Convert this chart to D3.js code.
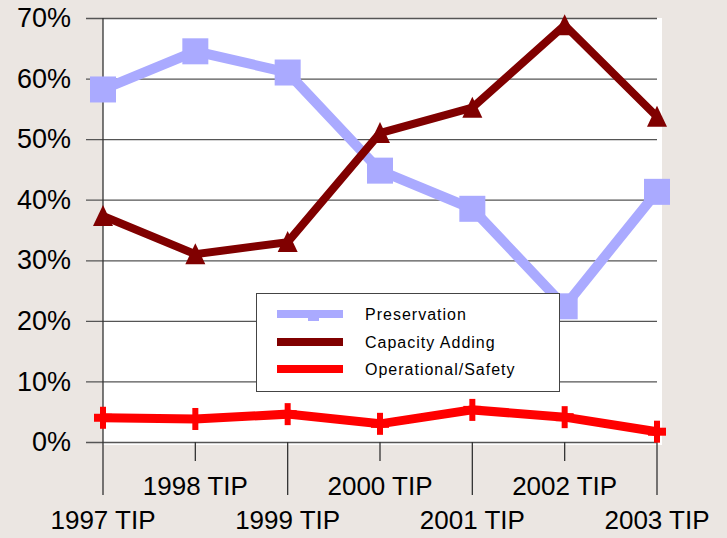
<!DOCTYPE html>
<html>
<head>
<meta charset="utf-8">
<script src="https://cdn.jsdelivr.net/npm/d3@7"></script>
<style>
  body { margin: 0; background: #ebe6e2; }
  svg { display: block; font-family: "Liberation Sans", Arial, sans-serif; }
</style>
</head>
<body>
<svg id="chart" width="727" height="538"></svg>
<script>
var years = ["1997 TIP", "1998 TIP", "1999 TIP", "2000 TIP", "2001 TIP", "2002 TIP", "2003 TIP"];
var preservation = [58.2, 64.5, 61.0, 44.8, 38.5, 22.4, 41.3];
var capacityAdding = [37.3, 31.0, 33.0, 51.0, 55.2, 68.8, 53.7];
var operationalSafety = [4.0, 3.8, 4.6, 3.0, 5.3, 4.1, 1.7];
var yTicks = [0, 10, 20, 30, 40, 50, 60, 70];

var series = [
  { name: "Preservation", values: preservation, color: "#aaaaff", width: 10, marker: "square" },
  { name: "Capacity Adding", values: capacityAdding, color: "#800000", width: 8, marker: "triangle" },
  { name: "Operational/Safety", values: operationalSafety, color: "#ff0000", width: 9, marker: "plus" }
];

function init() {
  var svg = d3.select("#chart");

  var x = d3.scalePoint().domain(years).range([103, 657]).padding(0);
  var y = d3.scaleLinear().domain([0, 70]).range([442, 18]);

  // plot area
  svg.append("rect")
    .attr("x", x.range()[0])
    .attr("y", y(70))
    .attr("width", 662 - x.range()[0])
    .attr("height", 445 - y(70))
    .attr("fill", "#ffffff");

  // gridlines + y labels
  var yAxis = d3.axisLeft(y).tickValues(yTicks)
    .tickSize(-(657 - 86))
    .tickPadding(0)
    .tickFormat(function (d) { return d + "%"; });

  var gy = svg.append("g")
    .attr("transform", "translate(86,0)")
    .call(yAxis);
  gy.select(".domain").remove();
  gy.selectAll(".tick line").attr("stroke", "#555").attr("stroke-width", 1.3);
  gy.selectAll(".tick text")
    .attr("x", -15)
    .attr("font-size", 27)
    .attr("font-family", "Liberation Sans, Arial, sans-serif")
    .attr("fill", "#000");

  // y axis line
  svg.append("line")
    .attr("x1", 103).attr("x2", 103)
    .attr("y1", y(70)).attr("y2", y(0))
    .attr("stroke", "#333").attr("stroke-width", 1.3);

  // x axis ticks, staggered labels
  var gx = svg.append("g");
  years.forEach(function (yr, i) {
    var long = i % 2 === 0;
    gx.append("line")
      .attr("x1", x(yr)).attr("x2", x(yr))
      .attr("y1", y(0)).attr("y2", long ? 495 : 461)
      .attr("stroke", "#333").attr("stroke-width", 1.3);
    gx.append("text")
      .attr("x", x(yr))
      .attr("y", long ? 520 : 486)
      .attr("dy", "0.35em")
      .attr("text-anchor", "middle")
      .attr("font-size", 26)
      .attr("fill", "#000")
      .text(yr);
  });

  // lines
  var line = d3.line()
    .x(function (d, i) { return x(years[i]); })
    .y(function (d) { return y(d); });

  series.forEach(function (s) {
    svg.append("path")
      .datum(s.values)
      .attr("d", line)
      .attr("fill", "none")
      .attr("stroke", s.color)
      .attr("stroke-width", s.width)
      .attr("stroke-linejoin", "miter");

    var g = svg.append("g");
    s.values.forEach(function (v, i) {
      var cx = x(years[i]), cy = y(v);
      if (s.marker === "square") {
        g.append("rect")
          .attr("x", cx - 13).attr("y", cy - 13)
          .attr("width", 26).attr("height", 26)
          .attr("fill", s.color);
      } else if (s.marker === "triangle") {
        g.append("path")
          .attr("d", "M" + cx + "," + (cy - 11) + "L" + (cx + 10) + "," + (cy + 10) + "L" + (cx - 10) + "," + (cy + 10) + "Z")
          .attr("fill", s.color);
      } else {
        g.append("rect")
          .attr("x", cx - 3).attr("y", cy - 11)
          .attr("width", 6).attr("height", 22)
          .attr("fill", s.color);
        g.append("rect")
          .attr("x", cx - 9).attr("y", cy - 4)
          .attr("width", 18).attr("height", 8)
          .attr("fill", s.color);
      }
    });
  });

  // legend
  var legend = svg.append("g");
  legend.append("rect")
    .attr("x", 256.5).attr("y", 293.5)
    .attr("width", 303).attr("height", 98)
    .attr("fill", "#ffffff")
    .attr("stroke", "#444").attr("stroke-width", 1);

  var rowY = [314, 342, 369];
  series.forEach(function (s, i) {
    legend.append("line")
      .attr("x1", 277).attr("x2", 343)
      .attr("y1", rowY[i]).attr("y2", rowY[i])
      .attr("stroke", s.color).attr("stroke-width", 8);
    if (s.marker === "square") {
      legend.append("rect")
        .attr("x", 308).attr("y", rowY[i] - 4)
        .attr("width", 11).attr("height", 11)
        .attr("fill", s.color);
    }
    legend.append("text")
      .attr("x", 365)
      .attr("y", rowY[i])
      .attr("dy", "0.35em")
      .attr("font-size", 16)
      .attr("letter-spacing", 1)
      .attr("fill", "#000")
      .text(s.name);
  });
}

window.addEventListener("DOMContentLoaded", init);
</script>
</body>
</html>
